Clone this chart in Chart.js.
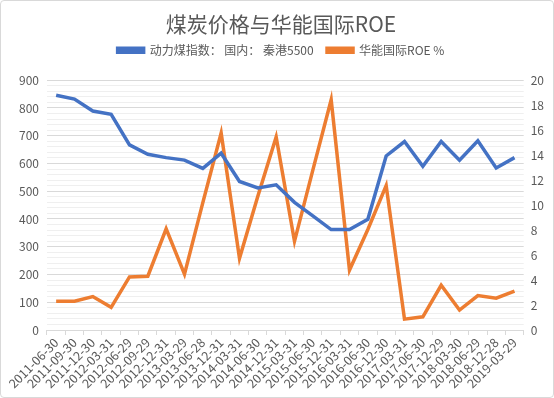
<!DOCTYPE html>
<html>
<head>
<meta charset="utf-8">
<script src="https://cdn.jsdelivr.net/npm/chart.js@4"></script>
<style>
  body { margin: 0; background: #fff; }
  #wrap { width: 552px; height: 396px; border: 1px solid #d9d9d9; border-radius: 4px; }
</style>
</head>
<body>
<div id="wrap"><canvas id="myChart"></canvas></div>
<script>
const labels = ['2011-06-30', '2011-09-30', '2011-12-30', '2012-03-31', '2012-06-29', '2012-09-29',
  '2012-12-31', '2013-03-29', '2013-06-28', '2013-12-31', '2014-03-31', '2014-06-30', '2014-12-31',
  '2015-03-31', '2015-06-30', '2015-12-31', '2016-03-31', '2016-06-30', '2016-12-30', '2017-03-31',
  '2017-06-30', '2017-12-29', '2018-03-30', '2018-06-29', '2018-12-28', '2019-03-29'];
const coalPrice = [846, 832, 789, 777, 667, 633, 621, 612, 582, 637, 535, 512, 523,
  460, 411, 362, 362, 399, 627, 679, 590, 679, 612, 682, 584, 621];
const roe = [2.3, 2.3, 2.68, 1.82, 4.25, 4.31, 8.1, 4.47, 10.2, 15.77, 5.74, 10.7, 15.45,
  7.1, 12.8, 18.43, 4.8, 8.05, 11.57, 0.87, 1.06, 3.58, 1.6, 2.76, 2.55, 3.12];

const font = 'Noto Sans CJK SC';
const grey = '#595959';

// extra room under the legend
const legendMargin = {
  id: 'legendMargin',
  beforeInit(chart) {
    const fit = chart.legend.fit;
    chart.legend.fit = function () {
      fit.bind(chart.legend)();
      this.height += 14;
    };
  }
};

const ctx = document.getElementById('myChart');
const myChart = new Chart(ctx, {
  type: 'line',
  data: {
    labels: labels,
    datasets: [{
      label: '动力煤指数： 国内： 秦港5500  ',
      data: coalPrice,
      yAxisID: 'y',
      borderColor: '#4472C4',
      backgroundColor: '#4472C4',
      borderWidth: 3.5,
      pointRadius: 0,
      fill: false,
    }, {
      label: '华能国际ROE %',
      data: roe,
      yAxisID: 'y1',
      borderColor: '#ED7D31',
      backgroundColor: '#ED7D31',
      borderWidth: 3.5,
      pointRadius: 0,
      fill: false,
    }]
  },
  options: {
    responsive: true,
    maintainAspectRatio: false,
    animation: false,
    layout: { padding: { left: 10, right: 2, top: 10, bottom: 6 } },
    plugins: {
      title: {
        display: true,
        text: '煤炭价格与华能国际ROE',
        color: grey,
        font: { family: font, size: 21, weight: 'normal' },
        padding: { top: 0, bottom: 0 }
      },
      legend: {
        labels: {
          color: grey,
          font: { family: font, size: 12 },
          boxWidth: 26,
          boxHeight: 4,
          padding: 8
        }
      },
      tooltip: { enabled: false }
    },
    scales: {
      x: {
        offset: true,
        grid: { display: true, drawOnChartArea: false, offset: true, tickLength: 5, color: '#d9d9d9' },
        border: { color: '#d9d9d9' },
        ticks: {
          color: grey,
          font: { family: font, size: 12.5 },
          minRotation: 45,
          maxRotation: 45,
          autoSkip: false,
          padding: 0
        }
      },
      y: {
        position: 'left',
        min: 0,
        max: 900,
        border: { display: false },
        grid: {
          drawTicks: false,
          color: c => (c.tick && c.tick.value % 100 === 0) ? '#d9d9d9' : '#efefef'
        },
        ticks: {
          stepSize: 20,
          autoSkip: false,
          maxTicksLimit: 100,
          color: grey,
          padding: 8,
          font: { family: font, size: 12 },
          callback: v => (v % 100 === 0 ? v : '')
        }
      },
      y1: {
        position: 'right',
        min: 0,
        max: 20,
        border: { display: false },
        grid: { drawOnChartArea: false, drawTicks: false },
        ticks: {
          stepSize: 2,
          color: grey,
          padding: 7,
          font: { family: font, size: 12 }
        }
      }
    }
  },
  plugins: [legendMargin]
});
</script>
</body>
</html>
